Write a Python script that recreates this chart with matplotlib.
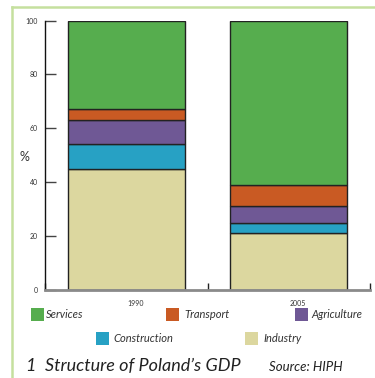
import matplotlib
matplotlib.use("Agg")
import matplotlib.pyplot as plt
from matplotlib.patches import Rectangle
from matplotlib.lines import Line2D
import matplotlib.transforms as mtransforms

years = ["1990", "2005"]
sectors = ["Industry", "Construction", "Agriculture", "Transport", "Services"]
industry = [45, 21]
construction = [9, 4]
agriculture = [9, 6]
transport = [4, 8]
services = [33, 61]
colors = ["#dcd79f", "#27a1c4", "#6f5895", "#c95a23", "#56ad4e"]
yticks = [0, 20, 40, 60, 80, 100]

W, H = 375, 378
fig = plt.figure(figsize=(W / 100, H / 100), dpi=100)
fig.patch.set_facecolor("white")


def fx(px):
    return px / W


def fy(py):
    return 1 - py / H


font = ["Lato", "DejaVu Sans"]
textcol = "#333333"

# frame lines
fig.add_artist(Line2D([fx(11.5), fx(11.5)], [fy(7), fy(378)], color="#c5e09e", lw=1.8))
fig.add_artist(Line2D([fx(11.5), fx(375)], [fy(7), fy(7)], color="#c5e09e", lw=1.8))

ax = fig.add_axes([fx(45), fy(290), fx(370) - fx(45), fy(20.5) - fy(290)])
ax.set_xlim(0, 2)
ax.set_ylim(0, 100)

centers = [0.5, 1.5]
series = [industry, construction, agriculture, transport, services]
bottoms = [0, 0]
for vals, col in zip(series, colors):
    ax.bar(centers, vals, width=0.72, bottom=bottoms, color=col,
           edgecolor="#222222", linewidth=1.0, zorder=2)
    bottoms = [b + v for b, v in zip(bottoms, vals)]

for s in ["top", "right"]:
    ax.spines[s].set_visible(False)
ax.spines["left"].set_color("#111111")
ax.spines["left"].set_linewidth(1.0)
ax.spines["bottom"].set_color("#8a8a8a")
ax.spines["bottom"].set_linewidth(2.0)

ax.set_yticks(yticks)
ax.set_yticklabels([str(t) for t in yticks], fontsize=5, color=textcol, family=font)
ax.tick_params(axis="y", direction="in", length=8, width=1.0, color="#444444", pad=5)
ax.set_xticks([0, 1, 2])
ax.set_xticklabels([])
ax.tick_params(axis="x", direction="in", length=5, width=1.0, color="#222222")

# year labels sit a little right of each bar centre
off = mtransforms.ScaledTranslation(9 / 100, 0, fig.dpi_scale_trans)
label_y = -(303 - 290 - 3) / (290 - 20.5)
for c, lab in zip(centers, years):
    ax.text(c, label_y, lab,
            transform=mtransforms.blended_transform_factory(ax.transData, ax.transAxes) + off,
            ha="center", va="top", fontsize=5, color=textcol, family=font)

fig.text(fx(24), fy(157), "%", fontsize=9, color=textcol, family=font, ha="center", va="center")

# legend
legend_pos = {
    "Services": (31, 308, 46),
    "Transport": (166, 308, 184),
    "Agriculture": (295, 308, 311),
    "Construction": (96, 332, 113),
    "Industry": (245, 332, 263),
}
for name, col in zip(sectors, colors):
    x0, y0, tx = legend_pos[name]
    fig.add_artist(Rectangle((fx(x0), fy(y0 + 12.7)), fx(12.7), fy(0) - fy(12.7),
                             facecolor=col, edgecolor="none", transform=fig.transFigure))
    fig.text(fx(tx), fy(y0 + 7), name, fontsize=8, style="italic", color=textcol,
             family=font, ha="left", va="center")

fig.text(fx(26), fy(366), "1  Structure of Poland\u2019s GDP", fontsize=13, style="italic",
         color="#222222", family=font, ha="left", va="center")
fig.text(fx(269), fy(367), "Source: HIPH", fontsize=9.5, style="italic",
         color="#222222", family=font, ha="left", va="center")

fig.savefig("out.png", dpi=100)
